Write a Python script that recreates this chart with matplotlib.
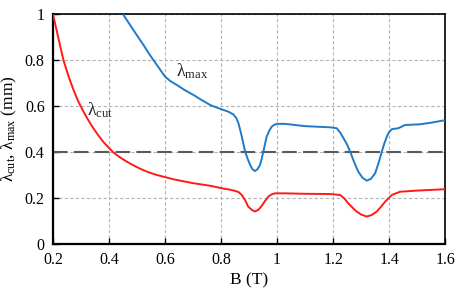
import matplotlib
matplotlib.use("Agg")
import matplotlib.pyplot as plt
import numpy as np

plt.rcParams['font.family'] = ['Liberation Serif', 'DejaVu Serif']
plt.rcParams['mathtext.fontset'] = 'custom'
plt.rcParams['mathtext.rm'] = 'Liberation Serif'

# lambda_cut (red)
B_cut = [0.2, 0.207, 0.22, 0.237, 0.255, 0.273, 0.29, 0.309, 0.325, 0.344, 0.36, 0.38, 0.415,
         0.437, 0.463, 0.49, 0.511, 0.54, 0.57, 0.63, 0.701, 0.761, 0.811, 0.832, 0.846, 0.862, 0.874,
         0.886, 0.897, 0.91, 0.921, 0.933, 0.945, 0.957, 0.969, 0.981, 0.993, 1.03, 1.1,
         1.189, 1.225, 1.24, 1.254, 1.27, 1.284, 1.3, 1.32, 1.338, 1.356, 1.372, 1.386,
         1.41, 1.439, 1.5, 1.55, 1.6]
L_cut = [1.0, 0.96, 0.89, 0.8, 0.73, 0.67, 0.62, 0.575, 0.54, 0.503, 0.475, 0.443, 0.398,
         0.378, 0.358, 0.34, 0.327, 0.312, 0.3, 0.281, 0.264, 0.253, 0.24, 0.236, 0.232, 0.226, 0.213,
         0.19, 0.162, 0.148, 0.141, 0.148, 0.165, 0.187, 0.206, 0.216, 0.22, 0.22, 0.218,
         0.217, 0.213, 0.198, 0.177, 0.157, 0.141, 0.128, 0.119, 0.126, 0.141, 0.163, 0.184,
         0.213, 0.227, 0.232, 0.235, 0.238]

# lambda_max (blue)
B_max = [0.449, 0.468, 0.487, 0.505, 0.523, 0.54, 0.558, 0.58, 0.6, 0.62, 0.642, 0.67, 0.701,
         0.73, 0.761, 0.795, 0.826, 0.844, 0.854, 0.862, 0.868, 0.874, 0.88, 0.886, 0.895,
         0.904, 0.912, 0.921, 0.93, 0.939, 0.945, 0.951, 0.957, 0.963, 0.972, 0.981, 0.99,
         0.999, 1.029, 1.1, 1.189, 1.213, 1.225, 1.237, 1.25, 1.261, 1.275, 1.29, 1.305,
         1.32, 1.335, 1.35, 1.362, 1.374, 1.383, 1.392, 1.4, 1.41, 1.433, 1.457, 1.51,
         1.55, 1.6]
L_max = [1.0, 0.965, 0.93, 0.897, 0.865, 0.832, 0.8, 0.762, 0.727, 0.707, 0.691, 0.669, 0.648,
         0.626, 0.604, 0.588, 0.575, 0.563, 0.548, 0.525, 0.497, 0.467, 0.434, 0.401, 0.37,
         0.343, 0.325, 0.317, 0.325, 0.343, 0.37, 0.401, 0.435, 0.467, 0.492, 0.51, 0.518,
         0.522, 0.522, 0.512, 0.507, 0.503, 0.485, 0.46, 0.432, 0.401, 0.356, 0.314, 0.288,
         0.275, 0.283, 0.307, 0.35, 0.401, 0.437, 0.467, 0.487, 0.499, 0.503, 0.517, 0.52,
         0.527, 0.538]

threshold = 0.4

fig = plt.figure(figsize=(4.57, 2.95), dpi=100)
ax = fig.add_axes([0.116, 0.173, 0.858, 0.78])

ax.plot(B_cut, L_cut, color='#ff1a1a', lw=1.4, zorder=3, solid_joinstyle='round')
ax.plot(B_max, L_max, color='#1f7ac8', lw=1.4, zorder=3, solid_joinstyle='round')
ax.axhline(threshold, color='#5a5a5a', lw=1.5, dashes=(7, 3), zorder=2)

ax.set_xlim(0.2, 1.6)
ax.set_ylim(0, 1)
ax.set_xticks(np.arange(0.2, 1.61, 0.2))
ax.set_xticklabels(['0.2', '0.4', '0.6', '0.8', '1', '1.2', '1.4', '1.6'])
ax.set_yticks(np.arange(0, 1.01, 0.2))
ax.set_yticklabels(['0', '0.2', '0.4', '0.6', '0.8', '1'])
ax.grid(True, color='#b4b4b4', ls=(0, (3, 2)), lw=0.8, zorder=1)
ax.tick_params(direction='in', length=4, width=1, labelsize=11.5, pad=6)

for s in ['left', 'bottom']:
    ax.spines[s].set_linewidth(1.6)
for s in ['top', 'right']:
    ax.spines[s].set_linewidth(1.2)

ax.set_xlabel('B (T)', fontsize=12.5, labelpad=3)
ax.set_ylabel(r'$\mathregular{λ_{cut}}$, $\mathregular{λ_{max}}$ (mm)', fontsize=12.5, labelpad=4)

ax.text(0.32, 0.56, r'$\mathregular{λ_{cut}}$', fontsize=13, color='#222222')
ax.text(0.64, 0.73, r'$\mathregular{λ_{max}}$', fontsize=13, color='#222222')

fig.savefig('out.png', dpi=100)
